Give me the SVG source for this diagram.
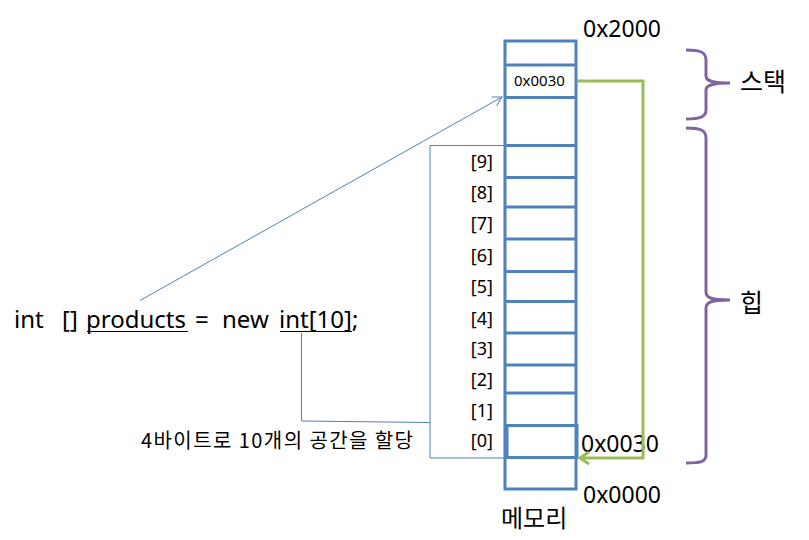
<svg xmlns="http://www.w3.org/2000/svg" width="809" height="540" viewBox="0 0 809 540">
<defs>
<style>
text{font-family:"Noto Sans","Noto Sans CJK KR",sans-serif;fill:#000}
.kr{font-family:"Noto Sans CJK KR","Noto Sans",sans-serif}
.cell{fill:none;stroke:#4f81bd;stroke-width:3}
.thin{fill:none;stroke:#4f81bd;stroke-width:1}
.green{fill:none;stroke:#9bbb59;stroke-width:3}
.brace{fill:none;stroke:#8064a2;stroke-width:3}
.idx{font-size:18px;text-anchor:end}
.big{font-size:23px}
.code{font-size:24px}
</style>
<marker id="openArrow" markerWidth="12" markerHeight="12" refX="10" refY="6" orient="auto" markerUnits="userSpaceOnUse">
<path d="M1,1 L10,6 L1,11" fill="none" stroke="#4f81bd" stroke-width="1"/>
</marker>
<marker id="greenArrow" markerWidth="16" markerHeight="16" refX="11" refY="8" orient="auto" markerUnits="userSpaceOnUse">
<path d="M2,2 L11,8 L2,14" fill="none" stroke="#9bbb59" stroke-width="3"/>
</marker>
</defs>

<g id="memory">
<rect class="cell" x="505" y="41" width="71" height="448"/>
<path class="cell" d="M505,65H576M505,97.5H576M505,145.5H576M505,177.5H576M505,207H576M505,239H576M505,271.5H576M505,301.5H576M505,333H576M505,365H576M505,393H576M505,457.5H576"/>
<rect class="cell" x="507" y="425.5" width="70" height="32"/>
<text x="514" y="86" font-size="15">0x0030</text>
<text class="big" x="583" y="37">0x2000</text>
<text class="big" x="581" y="452">0x0030</text>
<text class="big" x="583" y="503">0x0000</text>
<text class="kr" x="501" y="527" font-size="24">메모리</text>
</g>

<g id="indices">
<text class="idx" x="493" y="168">[9]</text>
<text class="idx" x="493" y="199">[8]</text>
<text class="idx" x="493" y="230">[7]</text>
<text class="idx" x="493" y="262">[6]</text>
<text class="idx" x="493" y="293">[5]</text>
<text class="idx" x="493" y="325">[4]</text>
<text class="idx" x="493" y="355">[3]</text>
<text class="idx" x="493" y="386">[2]</text>
<text class="idx" x="493" y="417">[1]</text>
<text class="idx" x="493" y="447">[0]</text>
</g>

<g id="code">
<text class="code" x="14" y="328">int</text>
<text class="code" x="62" y="328">[]</text>
<text class="code" x="86" y="328">products</text>
<text class="code" x="195" y="328">=</text>
<text class="code" x="222" y="328">new</text>
<text class="code" x="279" y="328">int[10];</text>
<path d="M87,331.5H188M280,331.5H352" stroke="#000" stroke-width="1.2" fill="none"/>
<text class="kr" x="141" y="448" font-size="20" textLength="272" lengthAdjust="spacing">4바이트로 10개의 공간을 할당</text>
</g>

<g id="stack-label">
<path class="brace" d="M686,50 C700,50 706,52 706,60 L706,76 C706,81 712,83 730,83 C712,83 706,85 706,90 L706,110 C706,117 700,119 686,119"/>
<text class="kr" x="740" y="91" font-size="25">스택</text>
</g>

<g id="heap-label">
<path class="brace" d="M686,128 C700,128 706,130 706,138 L706,292 C706,298 712,300 730,300 C712,300 706,302 706,308 L706,455 C706,462 700,463 686,463"/>
<text class="kr" x="740" y="312" font-size="25">힙</text>
</g>

<g id="connectors">
<line class="thin" x1="140" y1="300.5" x2="502" y2="97" marker-end="url(#openArrow)"/>
<path class="thin" d="M505,145.5H430V458H505"/>
<path class="thin" d="M301.5,333V421L430,422.5"/>
<path class="green" d="M577,81H643V458H580" marker-end="url(#greenArrow)"/>
</g>
</svg>
